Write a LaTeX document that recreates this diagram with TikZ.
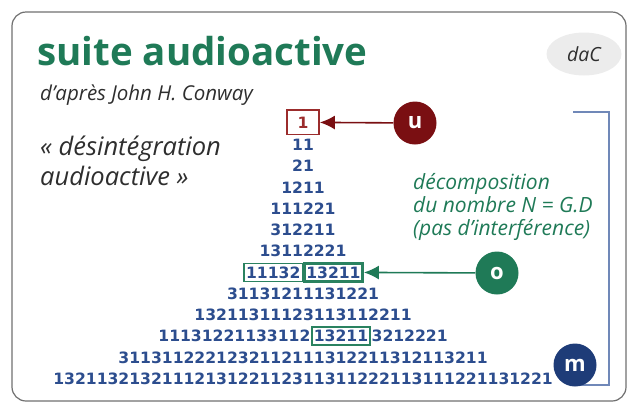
\documentclass[tikz,border=0pt]{standalone}
\usepackage{fontspec}
\setmainfont{Open Sans}
\newfontfamily\digitfont{DejaVu Sans}
\usetikzlibrary{arrows.meta,shapes.geometric}
\definecolor{titlegreen}{HTML}{1F7A57}
\definecolor{boxgreen}{HTML}{2A8260}
\definecolor{darkred}{HTML}{7A0F12}
\definecolor{boxred}{HTML}{9B2C2C}
\definecolor{numblue}{HTML}{2C4D8E}
\definecolor{mblue}{HTML}{1E3C78}
\definecolor{bracketblue}{HTML}{7088B8}
\definecolor{framegray}{HTML}{707070}
\definecolor{dacgray}{HTML}{ECECEC}
\definecolor{textgray}{HTML}{2E2E2E}
\tikzset{
  row/.style={font=\digitfont\bfseries\fontsize{15.6}{15.6}\selectfont, text=numblue, inner sep=0pt, anchor=base},
  thinbox/.style={draw=boxgreen, line width=1.3pt, inner xsep=2pt, inner ysep=3pt},
  thickbox/.style={draw=boxgreen, line width=2.6pt, inner xsep=2pt, inner ysep=3pt},
  badge/.style={circle, minimum size=43pt, inner sep=0pt, text=white, font=\bfseries\fontsize{22}{22}\selectfont},
  pointer/.style={line width=1.6pt, -{Latex[length=15pt,width=14pt]}},
  deco/.style={anchor=base west, inner sep=0, text=titlegreen, font=\itshape\fontsize{21}{21}\selectfont},
  quote/.style={anchor=base west, inner sep=0, text=textgray, font=\itshape\fontsize{25.5}{25.5}\selectfont},
}
\def\dw{10.86}
\begin{document}
\begin{tikzpicture}[x=1pt,y=-1pt]
\useasboundingbox (0,0) rectangle (627,405);
\draw[framegray, line width=1.2pt, rounded corners=14pt] (12,12) rectangle (626,401);
% titles
\node[anchor=base west, inner sep=0, text=titlegreen, font=\bfseries\fontsize{38.5}{38.5}\selectfont] (title) at (37,65) {suite audioactive};
\node[anchor=base west, inner sep=0, text=textgray, font=\itshape\fontsize{20.5}{20.5}\selectfont] (sub) at (40,100) {d’après John H. Conway};
\node[quote] (q1) at (40,155) {« désintégration};
\node[quote] (q2) at (40,185) {audioactive »};
\node[ellipse, fill=dacgray, minimum width=75pt, minimum height=43pt, inner sep=0, text=textgray, font=\itshape\fontsize{19.5}{19.5}\selectfont] (dac) at (584,54) {daC};
\node[deco] (d1) at (413,189) {décomposition};
\node[deco] (d2) at (413,212) {du nombre N = G.D};
\node[deco] (d3) at (413,235) {(pas d’interférence)};
% bracket
\coordinate (bt) at (573,112);
\coordinate (bb) at (609,385);
\coordinate (mend) at (575,385);
\draw[bracketblue, line width=1.8pt] (bt) -| (bb) -- (mend);
% pyramid
\node[row, text=boxred, draw=boxred, line width=1.8pt, inner xsep=10.5pt, inner ysep=6.5pt] (r1) at (303,128) {1};
\node[row] (r2) at (303,150.5) {11};
\node[row] (r3) at (303,171.75) {21};
\node[row] (r4) at (303,193) {1211};
\node[row] (r5) at (303,214.25) {111221};
\node[row] (r6) at (303,235.5) {312211};
\node[row] (r7) at (303,256.75) {13112221};
\node[row, thickbox, anchor=base west] (r8b) at (303,278) {13211};
\node[row, thinbox, anchor=base east] (r8a) at (303,278) {11132};
\node[row] (r9) at (303,299.25) {31131211131221};
\node[row] (r10) at (303,320.5) {13211311123113112211};
\node[row, thickbox] (r11b) at ({303+3.5*\dw},341.75) {13211};
\node[row, anchor=base east] (r11a) at (r11b.base west) {11131221133112};
\node[row, anchor=base west] (r11c) at (r11b.base east) {3212221};
\node[row] (r12) at (303,363) {3113112221232112111312211312113211};
\node[row] (r13) at (303,384.25) {1321132132111213122112311311222113111221131221};
% badges
\node[badge, fill=darkred] (u) at (415,123) {u};
\node[badge, fill=titlegreen] (o) at (497,273) {o};
\node[badge, fill=mblue] (m) at (575,365) {m};
\draw[pointer, darkred] (u) -- (r1);
\draw[pointer, titlegreen] (o) -- (r8b);
\end{tikzpicture}
\end{document}
